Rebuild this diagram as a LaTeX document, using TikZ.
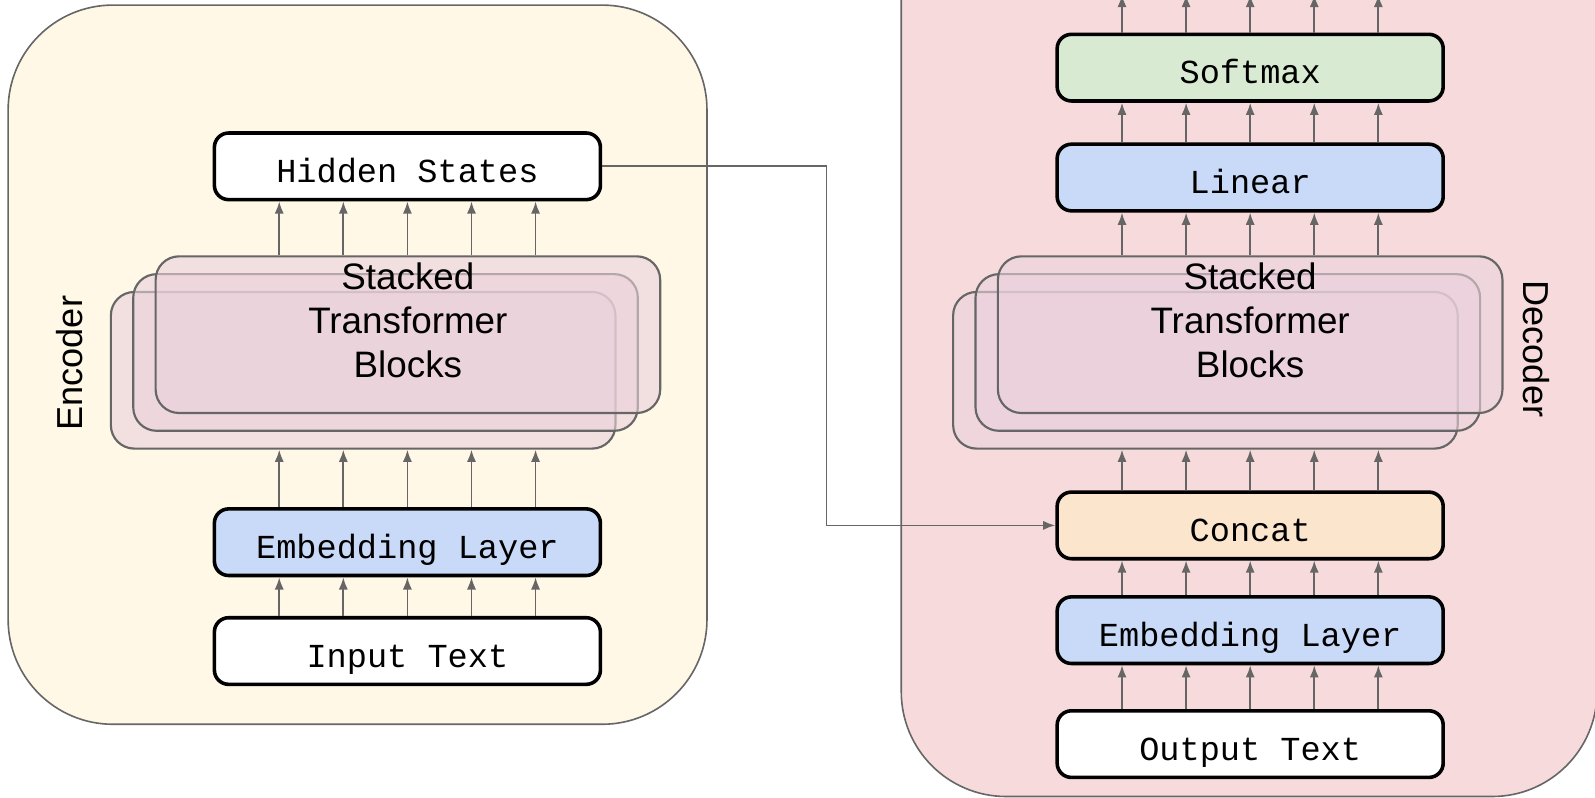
\documentclass[tikz,border=0pt]{standalone}
\usepackage{fontspec}
\setmainfont{Liberation Sans}
\setmonofont{Liberation Mono}
\usepackage{tikz}
\usetikzlibrary{arrows.meta,positioning,calc}

\definecolor{encfill}{HTML}{FFF8E6}
\definecolor{decfill}{HTML}{F7DBDC}
\definecolor{stackfill}{HTML}{EAD1DC}
\definecolor{edgegray}{HTML}{666666}
\definecolor{embblue}{HTML}{C9DAF8}
\definecolor{softgreen}{HTML}{D9EAD3}
\definecolor{catorange}{HTML}{FCE5CD}

% five parallel arrows between two anchors
\newcommand{\fanarrows}[2]{%
  \foreach \d in {-1.26,-0.63,0,0.63,1.26}
    \draw[flow] ($(#1)+(\d,0)$) -- ($(#2)+(\d,0)$);}

\begin{document}
\begin{tikzpicture}[
  layer/.style={draw=black, line width=1pt, rounded corners=4pt, minimum width=3.795cm, minimum height=0.655cm, inner sep=0pt, text height=9pt, text depth=0pt, font=\ttfamily\fontsize{9.4}{11}\selectfont},
  block/.style={draw=edgegray, line width=0.6pt, fill=stackfill, fill opacity=0.6, rounded corners=0.23cm, minimum width=4.96cm, minimum height=1.54cm, inner sep=0pt},
  blocktext/.style={font=\fontsize{10.3}{12.2}\selectfont, align=center},
  sidetext/.style={font=\fontsize{10.1}{12}\selectfont},
  flow/.style={draw=edgegray, line width=0.5pt, -{Latex[length=1.2mm,width=0.9mm]}},
]
% Canvas
\useasboundingbox (0,0) rectangle (15.68,7.84);
\clip (0,0) rectangle (15.68,7.84);

% Panels
\filldraw[fill=encfill, draw=edgegray, line width=0.45pt, rounded corners=1.03cm] (0.08,0.72) rectangle (6.95,7.79);
\filldraw[fill=decfill, draw=edgegray, line width=0.45pt, rounded corners=1.03cm] (8.86,0.01) rectangle (15.70,9.0);

% Encoder
\node[layer, fill=white] (hid) at (4.005,6.205) {Hidden States};
\foreach \i/\nm in {2/front,1/mid,0/back}
  \node[block] (enc\nm) at ({4.01-0.22*\i},{4.55-0.175*\i}) {};
\node[blocktext] (enctext) at (4.01,4.69) {Stacked\\Transformer\\Blocks};
\node[layer, fill=embblue] (encemb) at (4.005,2.51) {Embedding Layer};
\node[layer, fill=white] (inp) at (4.005,1.44) {Input Text};
\node[sidetext, rotate=90] (enclabel) at (0.68,4.27) {Encoder};

% Decoder
\node[layer, fill=softgreen] (soft) at (12.29,7.175) {Softmax};
\node[layer, fill=embblue] (lin) at (12.29,6.095) {Linear};
\foreach \i/\nm in {2/front,1/mid,0/back}
  \node[block] (dec\nm) at ({12.29-0.22*\i},{4.55-0.175*\i}) {};
\node[blocktext] (dectext) at (12.29,4.69) {Stacked\\Transformer\\Blocks};
\node[layer, fill=catorange] (concat) at (12.29,2.675) {Concat};
\node[layer, fill=embblue] (decemb) at (12.29,1.645) {Embedding Layer};
\node[layer, fill=white] (outp) at (12.29,0.525) {Output Text};
\node[sidetext, rotate=-90] (declabel) at (15.10,4.41) {Decoder};
\coordinate (out) at (12.29,7.89);

% Encoder arrows
\fanarrows{inp.north}{encemb.south}
\fanarrows{encemb.north}{encemb.north |- encfront.south}
\fanarrows{hid.south |- encback.north}{hid.south}

% Decoder arrows
\fanarrows{outp.north}{decemb.south}
\fanarrows{decemb.north}{concat.south}
\fanarrows{concat.north}{concat.north |- decfront.south}
\fanarrows{lin.south |- decback.north}{lin.south}
\fanarrows{lin.north}{soft.south}
\fanarrows{soft.north}{out}

% Hidden states into decoder
\draw[flow] (hid.east) -| ($(concat.west)+(-2.25,0)$) -- (concat.west);

\end{tikzpicture}
\end{document}
